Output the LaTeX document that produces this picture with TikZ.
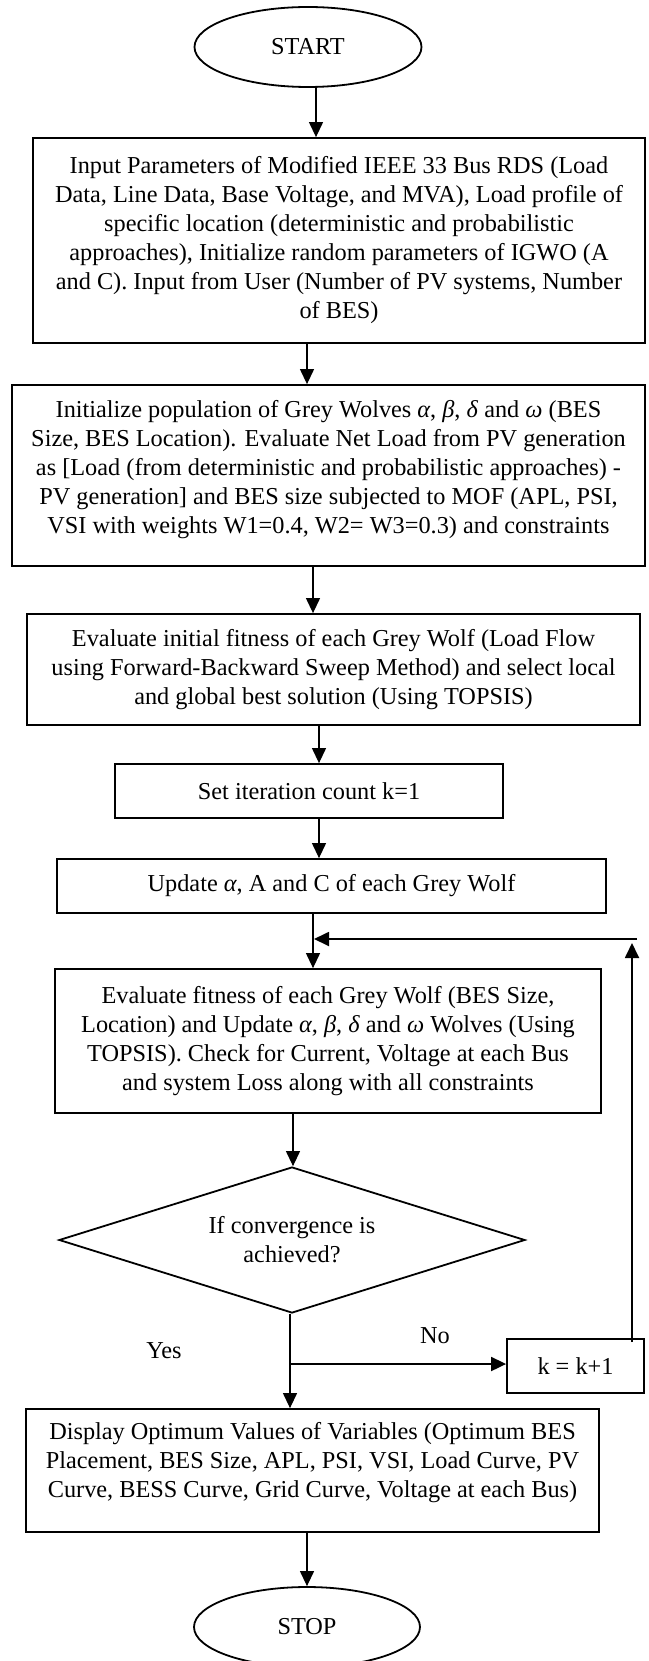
\documentclass[tikz,border=0pt]{standalone}
\usepackage{fontspec}
\setmainfont{Liberation Serif}
\usetikzlibrary{arrows.meta,shapes.geometric,calc}
\tikzset{
  base/.style={font=\fontsize{24.3}{29}\selectfont, inner sep=0pt, align=center, text=black},
  procbox/.style={base, draw, rectangle, line width=1.8pt},
  term/.style={base, draw, ellipse, line width=1.8pt},
  decis/.style={base, draw, diamond, shape aspect=3.2, line width=1.8pt},
  arr/.style={-{Triangle[length=15pt,width=14pt]}, line width=1.2pt},
  arrthick/.style={-{Triangle[length=15pt,width=14pt]}, line width=1.8pt},
  lbl/.style={base}
}
\begin{document}
\begin{tikzpicture}[x=1pt,y=-1pt]
\path[use as bounding box, fill=white] (0,0) rectangle (648,1661);

\node[term, minimum width=227pt, minimum height=80pt] (start) at (308,47) {START};

\node[procbox, minimum width=612pt, minimum height=205pt] (b1) at (339,240.5)
 {Input Parameters of Modified IEEE 33 Bus RDS (Load\\
  Data, Line Data, Base Voltage, and MVA), Load profile of\\
  specific location (deterministic and probabilistic\\
  approaches), Initialize random parameters of IGWO (A\\
  and C). Input from User (Number of PV systems, Number\\
  of BES)};

\node[procbox, minimum width=633pt, minimum height=181pt] (b2) at (328.5,475.5)
 {Initialize population of Grey Wolves \textit{α}, \textit{β}, \textit{δ} and \textit{ω} (BES\\
  Size, BES Location). Evaluate Net Load from PV generation\\
  as [Load (from deterministic and probabilistic approaches) -\\
  PV generation] and BES size subjected to MOF (APL, PSI,\\
  VSI with weights W1=0.4, W2= W3=0.3) and constraints\\[-11pt]\mbox{}};

\node[procbox, minimum width=613pt, minimum height=111pt] (b3) at (333.5,669.5)
 {Evaluate initial fitness of each Grey Wolf (Load Flow\\
  using Forward-Backward Sweep Method) and select local\\
  and global best solution (Using TOPSIS)};

\node[procbox, minimum width=388pt, minimum height=54pt] (b4) at (309,791)
 {Set iteration count k=1};

\node[procbox, minimum width=549pt, minimum height=54pt] (b5) at (331.5,886)
 {Update \textit{α}, A and C of each Grey Wolf};

\node[procbox, minimum width=546pt, minimum height=144pt] (b6) at (328,1041)
 {Evaluate fitness of each Grey Wolf (BES Size,\\
  Location) and Update \textit{α}, \textit{β}, \textit{δ} and \textit{ω} Wolves (Using\\
  TOPSIS). Check for Current, Voltage at each Bus\\
  and system Loss along with all constraints};

\node[decis, minimum width=466pt, minimum height=146pt] (dec) at (292,1240)
 {If convergence is\\ achieved?};

\node[procbox, minimum width=137pt, minimum height=54pt] (kb) at (575.5,1366)
 {k = k+1};

\node[procbox, minimum width=573pt, minimum height=123pt] (disp) at (312.5,1470.5)
 {Display Optimum Values of Variables (Optimum BES\\
  Placement, BES Size, APL, PSI, VSI, Load Curve, PV\\
  Curve, BESS Curve, Grid Curve, Voltage at each Bus)\\[-8pt]\mbox{}};

\node[term, minimum width=226pt, minimum height=80pt] (stop) at (307,1627) {STOP};

\node[lbl] (no) at (435,1336) {No};
\node[lbl] (yes) at (164,1351) {Yes};

% main flow
\draw[arr] ([xshift=8pt]start.south) -- ([xshift=8pt]start.south |- b1.north);
\draw[arr] ([xshift=-32pt]b1.south) -- ([xshift=-32pt]b1.south |- b2.north);
\draw[arr] ([xshift=-15.5pt]b2.south) -- ([xshift=-15.5pt]b2.south |- b3.north);
\draw[arr] ([xshift=-14.5pt]b3.south) -- ([xshift=-14.5pt]b3.south |- b4.north);
\draw[arr] ([xshift=10pt]b4.south) -- ([xshift=10pt]b4.south |- b5.north);
\coordinate (a6) at ([xshift=-18.5pt]b5.south);
\draw[arr] (a6) -- (a6 |- b6.north);
\draw[arr] ([xshift=-35pt]b6.south) -- ([xshift=-35pt]b6.south |- dec.north);
\draw[arr] ([xshift=-2pt]dec.south) -- ([xshift=-2pt]dec.south |- disp.north);
\coordinate (br) at ([xshift=-2pt]dec.south |- 0,1364);
\draw[arrthick] (br) -- (br -| kb.west);
\draw[arr] ([xshift=-5.5pt]disp.south) -- ([xshift=-5.5pt]disp.south |- stop.north);

% feedback loop
\coordinate (fbR) at (637,939);
\draw[arrthick, shorten >=4pt] ([xshift=56.5pt,yshift=-4pt]kb.north) -- ([xshift=56.5pt]kb.north |- fbR);
\draw[arrthick, shorten >=1pt] (fbR) -- (fbR -| a6);
\end{tikzpicture}
\end{document}
